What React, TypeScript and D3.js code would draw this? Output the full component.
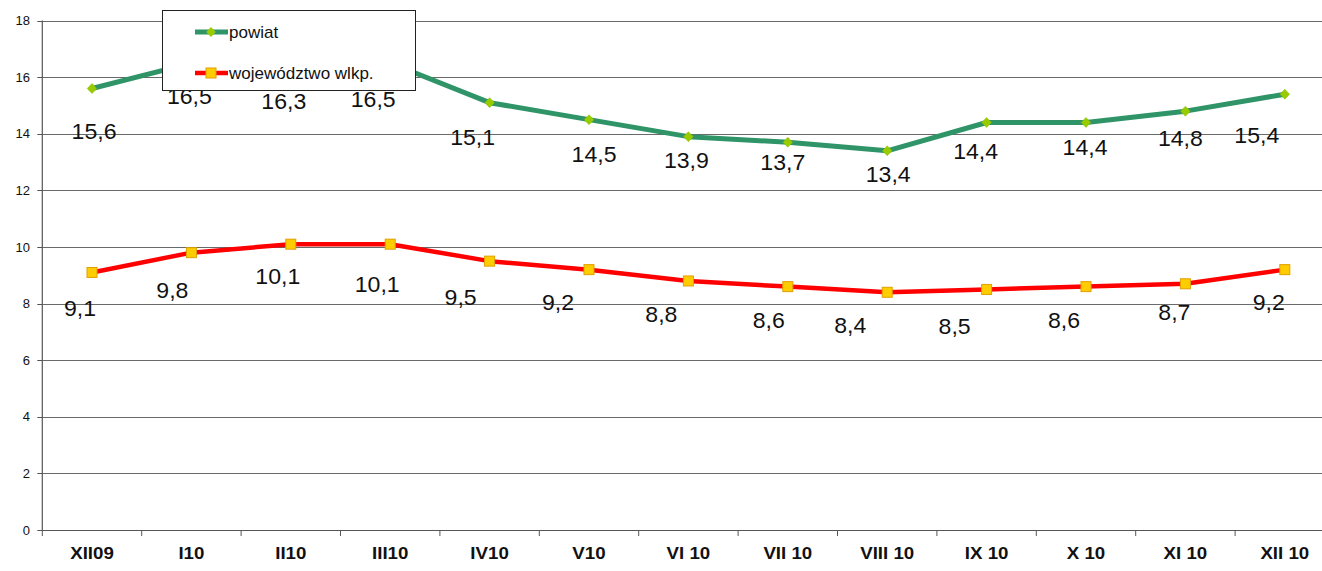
import React, { useEffect, useRef } from "react";
import * as d3 from "d3";

const categories = ["XII09", "I10", "II10", "III10", "IV10", "V10", "VI 10", "VII 10", "VIII 10", "IX 10", "X 10", "XI 10", "XII 10"];
const powiat = [15.6, 16.5, 16.3, 16.5, 15.1, 14.5, 13.9, 13.7, 13.4, 14.4, 14.4, 14.8, 15.4];
const wojewodztwo = [9.1, 9.8, 10.1, 10.1, 9.5, 9.2, 8.8, 8.6, 8.4, 8.5, 8.6, 8.7, 9.2];
const yTicks = [0, 2, 4, 6, 8, 10, 12, 14, 16, 18];
const seriesNames = ["powiat", "województwo wlkp."];

// label placement offsets (dx, dy from point, baseline)
const powiatLabelOffsets: [number, number][] = [
  [2, 50], [-2, 41], [-7, 40], [-17, 44], [-17, 42], [5, 42], [-2, 31], [-5, 28], [1, 31], [-11, 37], [-1, 33], [-5, 35], [-28, 49],
];
const wojLabelOffsets: [number, number][] = [
  [-12, 44], [-19, 45], [-13, 40], [-13, 48], [-29, 44], [-31, 40], [-27, 41], [-19, 41], [-37, 41], [-32, 45], [-22, 41], [-11, 36], [-16, 40],
];

const W = 1322;
const H = 571;

export default function App() {
  const ref = useRef<SVGSVGElement>(null);
  useEffect(() => {
    const svg = d3.select(ref.current);
    svg.selectAll("*").remove();

    const x0 = 42.3;
    const band = 99.4;
    const x = d3.scaleBand<string>().domain(categories).range([x0, x0 + band * categories.length]).padding(0);
    const y = d3.scaleLinear().domain([0, 18]).range([530, 20.6]);
    const cx = (i: number) => (x(categories[i]) as number) + x.bandwidth() / 2;

    const font = "Arial, 'Liberation Sans', sans-serif";
    const green = "#2f9468";

    // gridlines
    svg.append("g").selectAll("line").data(yTicks.filter((t) => t > 0)).join("line")
      .attr("x1", x0).attr("x2", W)
      .attr("y1", (d) => Math.round(y(d)) + 0.5).attr("y2", (d) => Math.round(y(d)) + 0.5)
      .attr("stroke", "#6a6a6a").attr("stroke-width", 1);

    // y axis
    const ya = svg.append("g");
    ya.append("line").attr("x1", x0).attr("x2", x0).attr("y1", y(18)).attr("y2", y(0)).attr("stroke", "#555").attr("stroke-width", 1.2);
    ya.selectAll("line.t").data(yTicks).join("line").attr("class", "t")
      .attr("x1", x0 - 5).attr("x2", x0)
      .attr("y1", (d) => Math.round(y(d)) + 0.5).attr("y2", (d) => Math.round(y(d)) + 0.5)
      .attr("stroke", "#555");
    ya.selectAll("text").data(yTicks).join("text")
      .attr("x", 30).attr("y", (d) => y(d) + 4.5)
      .attr("text-anchor", "end").attr("font-family", font).attr("font-size", 13).attr("fill", "#111")
      .text((d) => String(d));

    // x axis
    const xa = svg.append("g");
    xa.append("line").attr("x1", x0).attr("x2", W).attr("y1", Math.round(y(0)) + 0.5).attr("y2", Math.round(y(0)) + 0.5).attr("stroke", "#555").attr("stroke-width", 1.2);
    xa.selectAll("line.t").data(d3.range(categories.length + 1)).join("line").attr("class", "t")
      .attr("x1", (i) => x0 + i * band).attr("x2", (i) => x0 + i * band)
      .attr("y1", y(0)).attr("y2", y(0) + 6).attr("stroke", "#555");
    xa.selectAll("text").data(categories).join("text")
      .attr("transform", (d, i) => `translate(${cx(i)},${559}) scale(1.1,1)`)
      .attr("text-anchor", "middle").attr("font-family", font).attr("font-size", 17).attr("font-weight", "bold").attr("fill", "#111")
      .text((d) => d);

    const line = d3.line<number>().x((d, i) => cx(i)).y((d) => y(d));

    // series lines
    svg.append("path").datum(powiat).attr("d", line).attr("fill", "none").attr("stroke", green).attr("stroke-width", 5).attr("stroke-linejoin", "round");
    svg.append("path").datum(wojewodztwo).attr("d", line).attr("fill", "none").attr("stroke", "#ff0000").attr("stroke-width", 4.5).attr("stroke-linejoin", "round");

    const diamond = "M0,-5L4.8,0L0,5L-4.8,0Z";
    svg.append("g").selectAll("path").data(powiat).join("path")
      .attr("d", diamond)
      .attr("transform", (d, i) => `translate(${cx(i)},${y(d)})`)
      .attr("fill", "#99cc00").attr("stroke", "#88bb00").attr("stroke-width", 0.5);

    svg.append("g").selectAll("rect").data(wojewodztwo).join("rect")
      .attr("x", (d, i) => cx(i) - 5).attr("y", (d) => y(d) - 5)
      .attr("width", 10).attr("height", 10)
      .attr("fill", "#ffcc00").attr("stroke", "#e0a000").attr("stroke-width", 1);

    // data labels
    const fmt = (v: number) => v.toFixed(1).replace(".", ",");
    svg.append("g").selectAll("text").data(powiat).join("text")
      .attr("transform", (d, i) => `translate(${cx(i) + powiatLabelOffsets[i][0]},${y(d) + powiatLabelOffsets[i][1]}) scale(1.05,1)`)
      .attr("text-anchor", "middle").attr("font-family", font).attr("font-size", 22).attr("fill", "#111")
      .text((d) => fmt(d));
    svg.append("g").selectAll("text").data(wojewodztwo).join("text")
      .attr("transform", (d, i) => `translate(${cx(i) + wojLabelOffsets[i][0]},${y(d) + wojLabelOffsets[i][1]}) scale(1.05,1)`)
      .attr("text-anchor", "middle").attr("font-family", font).attr("font-size", 22).attr("fill", "#111")
      .text((d) => fmt(d));

    // legend
    const lg = svg.append("g");
    lg.append("rect").attr("x", 162.5).attr("y", 10.5).attr("width", 253).attr("height", 80)
      .attr("fill", "#fff").attr("stroke", "#222").attr("stroke-width", 1);
    const ly = [32, 73];
    const colors = [green, "#ff0000"];
    seriesNames.forEach((name, k) => {
      lg.append("line").attr("x1", 195).attr("x2", 228).attr("y1", ly[k]).attr("y2", ly[k])
        .attr("stroke", colors[k]).attr("stroke-width", k === 0 ? 5 : 4.5);
      if (k === 0) {
        lg.append("path").attr("d", diamond).attr("transform", `translate(211,${ly[k]})`).attr("fill", "#99cc00");
      } else {
        lg.append("rect").attr("x", 206).attr("y", ly[k] - 5).attr("width", 10).attr("height", 10)
          .attr("fill", "#ffcc00").attr("stroke", "#e0a000");
      }
      lg.append("text").attr("x", 229).attr("y", ly[k] + 5.5)
        .attr("font-family", font).attr("font-size", 17).attr("fill", "#111").text(name);
    });
  }, []);

  return (
    <svg ref={ref} width={W} height={H} style={{ position: "absolute", left: 0, top: 0, background: "#fff" }} />
  );
}
